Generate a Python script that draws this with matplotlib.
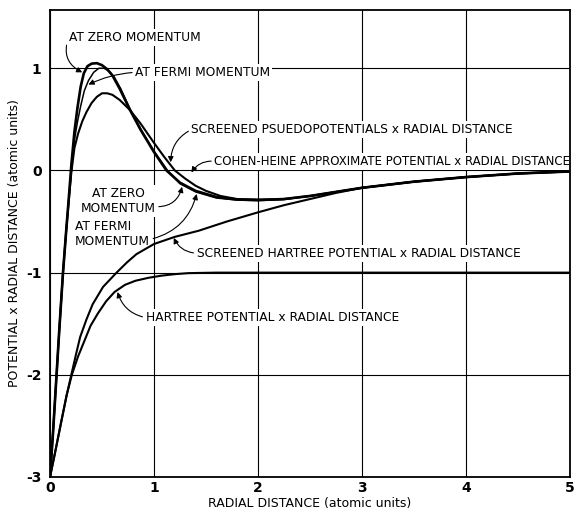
import matplotlib
matplotlib.use("Agg")
import matplotlib.pyplot as plt

# curves (radial distance, potential x radial distance)
zero_x = [0, 0.03, 0.06, 0.09, 0.125, 0.155, 0.18, 0.205, 0.235, 0.265, 0.295, 0.325, 0.36, 0.40,
          0.45, 0.50, 0.55, 0.60, 0.67, 0.77, 0.87, 1.0, 1.12, 1.25, 1.4, 1.6, 1.8, 2.0, 2.25, 2.5,
          3.0, 3.5, 4.0, 4.5, 5.0]
zero_y = [-3, -2.55, -2.05, -1.55, -1.0, -0.6, -0.28, 0.05, 0.38, 0.62, 0.82, 0.95, 1.02, 1.045,
          1.05, 1.03, 0.99, 0.93, 0.80, 0.59, 0.40, 0.18, 0.0, -0.12, -0.2, -0.26, -0.285, -0.29,
          -0.28, -0.25, -0.17, -0.11, -0.065, -0.03, -0.01]

fermi_x = [0, 0.03, 0.06, 0.09, 0.125, 0.155, 0.18, 0.205, 0.235, 0.265, 0.295, 0.33, 0.37, 0.42,
           0.47, 0.52, 0.57, 0.62, 0.68, 0.77, 0.87, 1.0, 1.13, 1.25, 1.4, 1.6, 1.8, 2.0, 2.25, 2.5,
           3.0, 3.5, 4.0, 4.5, 5.0]
fermi_y = [-3, -2.55, -2.05, -1.55, -1.0, -0.6, -0.3, 0.0, 0.3, 0.48, 0.63, 0.78, 0.88, 0.96,
           1.0, 1.0, 0.97, 0.91, 0.80, 0.60, 0.41, 0.19, 0.0, -0.13, -0.21, -0.27, -0.29, -0.295,
           -0.285, -0.25, -0.17, -0.11, -0.065, -0.03, -0.01]

cohen_x = [0, 0.03, 0.06, 0.09, 0.125, 0.155, 0.18, 0.205, 0.235, 0.27, 0.31, 0.35, 0.40, 0.45,
           0.50, 0.55, 0.60, 0.67, 0.77, 0.87, 1.0, 1.1, 1.2, 1.3, 1.4, 1.5, 1.64, 1.8, 2.0, 2.25,
           2.5, 3.0, 3.5, 4.0, 4.5, 5.0]
cohen_y = [-3, -2.55, -2.05, -1.55, -1.0, -0.6, -0.3, -0.02, 0.22, 0.36, 0.48, 0.57, 0.66, 0.72,
           0.755, 0.755, 0.74, 0.69, 0.59, 0.46, 0.27, 0.13, 0.0, -0.08, -0.15, -0.2, -0.25, -0.28,
           -0.285, -0.28, -0.25, -0.17, -0.11, -0.065, -0.03, -0.01]

scr_hartree_x = [0, 0.045, 0.11, 0.16, 0.205, 0.25, 0.29, 0.35, 0.41, 0.51, 0.64, 0.74, 0.83, 1.0,
                 1.2, 1.43, 1.7, 2.0, 2.25, 2.5, 2.75, 3.0, 3.5, 4.0, 4.5, 5.0]
scr_hartree_y = [-3, -2.78, -2.45, -2.2, -2.0, -1.8, -1.63, -1.46, -1.31, -1.14, -1.0, -0.9, -0.82,
                 -0.72, -0.65, -0.59, -0.5, -0.41, -0.34, -0.28, -0.22, -0.17, -0.11, -0.065, -0.03,
                 -0.01]

hartree_x = [0, 0.045, 0.11, 0.16, 0.21, 0.27, 0.33, 0.39, 0.46, 0.54, 0.62, 0.72, 0.82, 0.95,
             1.07, 1.2, 1.33, 1.6, 2.0, 3.0, 4.0, 5.0]
hartree_y = [-3, -2.78, -2.45, -2.2, -2.0, -1.82, -1.67, -1.52, -1.40, -1.28, -1.19, -1.12, -1.08,
             -1.05, -1.03, -1.015, -1.005, -1.0, -1.0, -1.0, -1.0, -1.0]

x_ticks = [0, 1, 2, 3, 4, 5]
y_ticks = [-3, -2, -1, 0, 1]
y_tick_labels = ["-3", "-2", "-1", "0", "1"]

plt.rcParams["font.family"] = "DejaVu Sans"

fig = plt.figure(figsize=(5.8, 5.12), dpi=100)
ax = fig.add_axes([50 / 580, 35 / 512, 520 / 580, 467 / 512])

ax.plot(zero_x, zero_y, color="black", lw=1.9, zorder=3)
ax.plot(fermi_x, fermi_y, color="black", lw=1.1, zorder=3)
ax.plot(cohen_x, cohen_y, color="black", lw=1.5, zorder=3)
ax.plot(scr_hartree_x, scr_hartree_y, color="black", lw=1.5, zorder=3)
ax.plot(hartree_x, hartree_y, color="black", lw=1.5, zorder=3)

ax.set_xlim(0, 5)
ax.set_ylim(-3, 1.57)
ax.set_xticks(x_ticks)
ax.set_yticks(y_ticks)
ax.set_yticklabels(y_tick_labels)
ax.tick_params(length=0, labelsize=10)
ax.tick_params(axis="x", pad=3)
ax.tick_params(axis="y", pad=6)
for lab in ax.get_xticklabels() + ax.get_yticklabels():
    lab.set_fontweight("bold")
ax.grid(True, color="black", lw=0.8)
for sp in ax.spines.values():
    sp.set_linewidth(1.3)
    sp.set_zorder(4)

ax.set_xlabel("RADIAL DISTANCE (atomic units)", fontsize=9, labelpad=1)
ax.set_ylabel("POTENTIAL x RADIAL DISTANCE (atomic units)", fontsize=9, labelpad=4)


def label(text, xy, xytext, rad, relpos=(0, 0.5), ha="left", va="center", ma="left", fs=8.8):
    ax.annotate(text, xy=xy, xytext=xytext, fontsize=fs, ha=ha, va=va, multialignment=ma,
                annotation_clip=False, zorder=2.5,
                bbox=dict(boxstyle="square,pad=0.15", fc="white", ec="none"),
                arrowprops=dict(arrowstyle="-|>", color="black", lw=0.8, mutation_scale=8,
                                shrinkA=1, shrinkB=0, relpos=relpos,
                                connectionstyle="arc3,rad=%s" % rad))


label("AT ZERO MOMENTUM", (0.31, 0.96), (0.18, 1.30), 0.45)
label("AT FERMI MOMENTUM", (0.37, 0.84), (0.82, 0.96), 0.1)
label("SCREENED PSUEDOPOTENTIALS x RADIAL DISTANCE", (1.16, 0.08), (1.36, 0.40), 0.3)
label("COHEN-HEINE APPROXIMATE POTENTIAL x RADIAL DISTANCE", (1.36, -0.02), (1.58, 0.09), 0.3,
      fs=8.5)
label("AT ZERO\nMOMENTUM", (1.27, -0.16), (0.655, -0.30), 0.4, relpos=(1, 0.3),
      ha="center", ma="center")
label("AT FERMI\nMOMENTUM", (1.41, -0.23), (0.24, -0.62), 0.3, relpos=(1, 0.3))
label("SCREENED HARTREE POTENTIAL x RADIAL DISTANCE", (1.19, -0.66), (1.41, -0.81), -0.3)
label("HARTREE POTENTIAL x RADIAL DISTANCE", (0.65, -1.19), (0.92, -1.44), -0.3)

fig.savefig("out.png", dpi=100)
